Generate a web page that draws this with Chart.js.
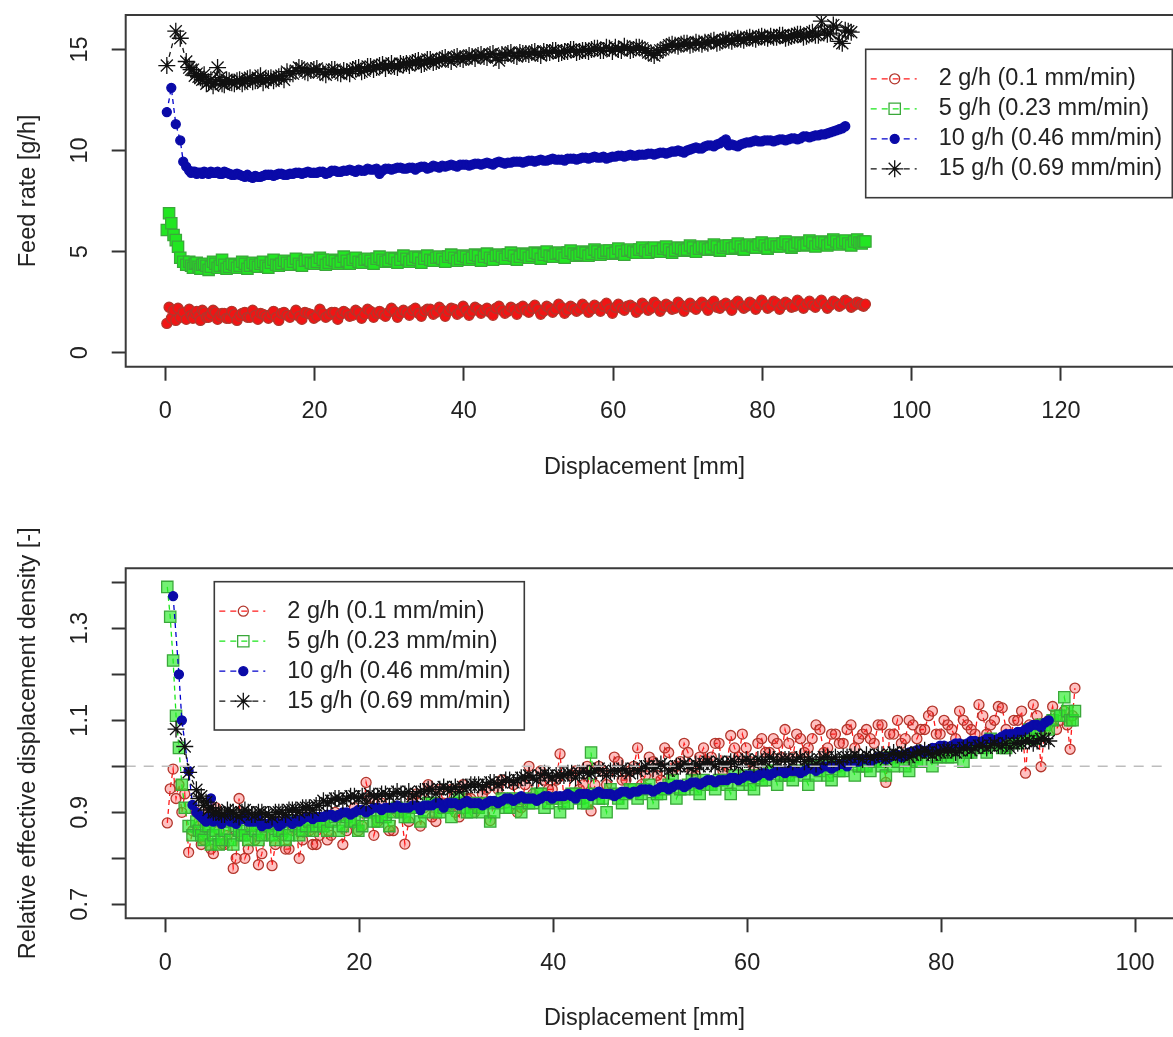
<!DOCTYPE html>
<html>
<head>
<meta charset="utf-8">
<script src="https://cdn.jsdelivr.net/npm/chart.js@4.4.1/dist/chart.umd.min.js"></script>
<style>
  html, body { margin: 0; padding: 0; background: #fff; }
  #wrap { position: relative; width: 1173px; height: 1037px; }
  canvas { position: absolute; left: 0; }
</style>
</head>
<body>
<div id="wrap">
  <canvas id="feedChart" width="1173" height="520" style="top:0"></canvas>
  <canvas id="densityChart" width="1173" height="517" style="top:520px"></canvas>
</div>
<script>
// displacement [mm] of the samples (run A: start-up plus every 0.8 mm)
const displacement = [
  0.2, 0.5, 0.8, 1.1, 1.4, 1.7, 2.0, 2.4, 2.8, 3.2,
  3.7, 4.2, 4.7, 5.2, 5.8, 6.4, 7.0, 7.6, 8.2, 8.9,
  9.6, 10.3, 11.0, 11.7, 12.4, 13.1, 13.8, 14.5, 15.2, 15.9,
  16.7, 17.5, 18.3, 19.1, 19.9, 20.7, 21.5, 22.3, 23.1, 23.9,
  24.7, 25.5, 26.3, 27.1, 27.9, 28.7, 29.5, 30.3, 31.1, 31.9,
  32.7, 33.5, 34.3, 35.1, 35.9, 36.7, 37.5, 38.3, 39.1, 39.9,
  40.7, 41.5, 42.3, 43.1, 43.9, 44.7, 45.5, 46.3, 47.1, 47.9,
  48.7, 49.5, 50.3, 51.1, 51.9, 52.7, 53.5, 54.3, 55.1, 55.9,
  56.7, 57.5, 58.3, 59.1, 59.9, 60.7, 61.5, 62.3, 63.1, 63.9,
  64.7, 65.5, 66.3, 67.1, 67.9, 68.7, 69.5, 70.3, 71.1, 71.9,
  72.7, 73.5, 74.3, 75.1, 75.9, 76.7, 77.5, 78.3, 79.1, 79.9,
  80.7, 81.5, 82.3, 83.1, 83.9, 84.7, 85.5, 86.3, 87.1, 87.9,
  88.7, 89.5, 90.3, 91.1, 91.9, 92.7, 93.3, 93.8
];
// in-between samples (B), after the start-up
const displacementB = [
  3.45, 3.95, 4.45, 4.95, 5.5, 6.1, 6.7, 7.3, 7.9, 8.55,
  9.25, 9.95, 10.65, 11.35, 12.05, 12.75, 13.45, 14.15, 14.85, 15.55,
  16.3, 17.1, 17.9, 18.7, 19.5, 20.3, 21.1, 21.9, 22.7, 23.5,
  24.3, 25.1, 25.9, 26.7, 27.5, 28.3, 29.1, 29.9, 30.7, 31.5,
  32.3, 33.1, 33.9, 34.7, 35.5, 36.3, 37.1, 37.9, 38.7, 39.5,
  40.3, 41.1, 41.9, 42.7, 43.5, 44.3, 45.1, 45.9, 46.7, 47.5,
  48.3, 49.1, 49.9, 50.7, 51.5, 52.3, 53.1, 53.9, 54.7, 55.5,
  56.3, 57.1, 57.9, 58.7, 59.5, 60.3, 61.1, 61.9, 62.7, 63.5,
  64.3, 65.1, 65.9, 66.7, 67.5, 68.3, 69.1, 69.9, 70.7, 71.5,
  72.3, 73.1, 73.9, 74.7, 75.5, 76.3, 77.1, 77.9, 78.7, 79.5,
  80.3, 81.1, 81.9, 82.7, 83.5, 84.3, 85.1, 85.9, 86.7, 87.5,
  88.3, 89.1, 89.9, 90.7, 91.5, 92.3, 93.0, 93.55
];

const seriesLabels = ["2 g/h (0.1 mm/min)", "5 g/h (0.23 mm/min)", "10 g/h (0.46 mm/min)", "15 g/h (0.69 mm/min)"];

// --- feed rate [g/h] ---
const feedRed = [
  1.45, 2.25, 1.7, 2.1, 1.6, 2.2, 1.75, 2.0, 1.65, 2.15,
  1.7, 2.05, 1.6, 2.0, 1.75, 2.1, 1.65, 1.95, 1.7, 2.05,
  1.6, 1.95, 1.75, 2.1, 1.65, 1.9, 1.7, 2.05, 1.6, 2.0,
  1.75, 2.1, 1.65, 1.95, 1.7, 2.15, 1.75, 2.0, 1.65, 2.05,
  1.8, 2.1, 1.7, 2.15, 1.75, 2.05, 1.8, 2.2, 1.75, 2.1,
  1.85, 2.2, 1.8, 2.15, 1.9, 2.25, 1.8, 2.2, 1.9, 2.3,
  1.85, 2.25, 1.95, 2.2, 1.85, 2.3, 1.95, 2.25, 1.9, 2.3,
  2.0, 2.35, 1.9, 2.3, 2.0, 2.4, 1.95, 2.3, 2.05, 2.4,
  2.0, 2.35, 2.05, 2.45, 1.95, 2.4, 2.1, 2.35, 2.0, 2.45,
  2.1, 2.5, 2.05, 2.4, 2.15, 2.5, 2.05, 2.45, 2.15, 2.5,
  2.1, 2.55, 2.2, 2.45, 2.1, 2.55, 2.2, 2.5, 2.15, 2.6,
  2.2, 2.55, 2.15, 2.5, 2.25, 2.6, 2.2, 2.55, 2.25, 2.6,
  2.2, 2.55, 2.3, 2.6, 2.25, 2.5, 2.35, 2.4
];
const feedRedB = [
  1.85, 1.95, 1.8, 2.1, 1.75, 1.9, 2.0, 1.8, 1.95, 1.7,
  1.9, 1.8, 2.0, 1.75, 1.85, 1.95, 1.8, 1.9, 1.75, 1.95,
  1.85, 1.9, 1.8, 2.0, 1.9, 1.8, 1.95, 1.85, 2.0, 1.9,
  1.95, 1.85, 2.0, 1.9, 2.05, 1.95, 1.9, 2.0, 2.05, 1.95,
  2.0, 2.1, 1.95, 2.05, 2.15, 2.0, 2.1, 2.05, 2.15, 2.0,
  2.1, 2.05, 2.15, 2.1, 2.0, 2.2, 2.1, 2.05, 2.15, 2.2,
  2.1, 2.2, 2.15, 2.05, 2.2, 2.15, 2.25, 2.1, 2.2, 2.15,
  2.25, 2.15, 2.2, 2.3, 2.15, 2.25, 2.2, 2.3, 2.25, 2.15,
  2.3, 2.2, 2.35, 2.25, 2.3, 2.2, 2.35, 2.3, 2.25, 2.35,
  2.3, 2.4, 2.25, 2.35, 2.3, 2.4, 2.35, 2.3, 2.4, 2.35,
  2.4, 2.3, 2.45, 2.35, 2.4, 2.3, 2.45, 2.4, 2.35, 2.45,
  2.4, 2.35, 2.45, 2.4, 2.5, 2.35, 2.45, 2.3
];
const feedGreen = [
  6.07, 6.9, 6.4, 5.82, 5.57, 5.24, 4.7, 4.5, 4.35, 4.5,
  4.2, 4.45, 4.15, 4.4, 4.1, 4.5, 4.2, 4.6, 4.15, 4.4,
  4.2, 4.5, 4.15, 4.45, 4.25, 4.5, 4.2, 4.6, 4.3, 4.55,
  4.35, 4.65, 4.3, 4.6, 4.4, 4.7, 4.35, 4.6, 4.4, 4.75,
  4.4, 4.7, 4.45, 4.65, 4.4, 4.75, 4.5, 4.7, 4.45, 4.8,
  4.5, 4.75, 4.45, 4.8, 4.55, 4.75, 4.5, 4.85, 4.55, 4.8,
  4.6, 4.85, 4.55, 4.9, 4.6, 4.85, 4.65, 4.95, 4.6, 4.9,
  4.7, 4.95, 4.65, 5.0, 4.75, 4.95, 4.7, 5.05, 4.8, 5.0,
  4.8, 5.1, 4.85, 5.05, 4.9, 5.15, 4.85, 5.1, 4.95, 5.2,
  4.95, 5.2, 5.0, 5.25, 4.95, 5.2, 5.05, 5.3, 5.0, 5.25,
  5.1, 5.35, 5.05, 5.3, 5.15, 5.4, 5.1, 5.35, 5.2, 5.45,
  5.15, 5.4, 5.25, 5.5, 5.2, 5.45, 5.3, 5.55, 5.25, 5.5,
  5.3, 5.6, 5.35, 5.55, 5.3, 5.6, 5.4, 5.5
];
const feedGreenB = [
  4.3, 4.4, 4.25, 4.35, 4.3, 4.25, 4.4, 4.3, 4.35, 4.25,
  4.35, 4.3, 4.4, 4.3, 4.35, 4.4, 4.3, 4.45, 4.35, 4.4,
  4.45, 4.5, 4.4, 4.55, 4.45, 4.5, 4.6, 4.45, 4.55, 4.5,
  4.55, 4.6, 4.5, 4.6, 4.55, 4.65, 4.6, 4.55, 4.65, 4.6,
  4.65, 4.6, 4.7, 4.65, 4.6, 4.7, 4.65, 4.75, 4.7, 4.65,
  4.75, 4.7, 4.8, 4.75, 4.7, 4.8, 4.75, 4.85, 4.8, 4.75,
  4.85, 4.8, 4.9, 4.85, 4.8, 4.9, 4.85, 4.95, 4.9, 4.85,
  4.95, 4.9, 5.0, 4.95, 5.05, 4.95, 5.0, 5.05, 5.0, 5.1,
  5.05, 5.1, 5.0, 5.15, 5.1, 5.05, 5.15, 5.1, 5.2, 5.15,
  5.2, 5.15, 5.25, 5.2, 5.3, 5.2, 5.25, 5.3, 5.25, 5.35,
  5.3, 5.35, 5.25, 5.4, 5.35, 5.3, 5.4, 5.35, 5.45, 5.4,
  5.45, 5.4, 5.5, 5.45, 5.4, 5.5, 5.45, 5.5
];
const feedBlue = [
  11.9, null, 13.1, null, 11.3, null, 10.5, 9.45, 9.2, 9.0,
  8.95, 8.85, 8.9, 8.95, 8.85, 8.9, 8.95, 8.85, 8.9, 8.8,
  8.85, 8.75, 8.8, 8.65, 8.7, 8.75, 8.8, 8.75, 8.85, 8.8,
  8.85, 8.9, 8.85, 8.95, 8.9, 8.95, 8.85, 9.0, 8.95, 9.0,
  9.05, 8.95, 9.0, 9.1, 9.05, 8.85, 9.1, 9.05, 9.15, 9.1,
  9.15, 9.05, 9.2, 9.1, 9.25, 9.15, 9.2, 9.3, 9.2, 9.3,
  9.25, 9.35, 9.3, 9.4, 9.3, 9.45, 9.35, 9.4, 9.45, 9.4,
  9.5, 9.45, 9.55, 9.5, 9.6, 9.55, 9.5, 9.6, 9.55, 9.65,
  9.6, 9.7, 9.65, 9.6, 9.7, 9.75, 9.7, 9.8, 9.75, 9.8,
  9.85, 9.8, 9.9, 9.85, 9.95, 10.0, 9.9, 10.05, 10.15, 10.1,
  10.25, 10.2, 10.35, 10.55, 10.3, 10.2, 10.35, 10.4, 10.5, 10.45,
  10.5, 10.45, 10.55, 10.5, 10.6, 10.55, 10.7, 10.65, 10.75, 10.8,
  10.85, 10.95, 11.05, 11.2
];
const feedBlueB = [
  8.9, 8.95, 8.9, 8.85, 8.9, 8.95, 8.9, 8.85, 8.95, 8.85,
  8.8, 8.8, 8.7, 8.7, 8.75, 8.7, 8.8, 8.8, 8.8, 8.85,
  8.8, 8.85, 8.9, 8.9, 8.9, 8.9, 8.95, 8.9, 9.0, 8.95,
  9.0, 9.0, 9.05, 9.0, 9.05, 9.1, 9.0, 9.1, 9.1, 9.15,
  9.1, 9.15, 9.15, 9.2, 9.15, 9.2, 9.25, 9.25, 9.25, 9.3,
  9.3, 9.3, 9.35, 9.35, 9.35, 9.4, 9.4, 9.4, 9.45, 9.45,
  9.45, 9.5, 9.5, 9.5, 9.55, 9.55, 9.55, 9.6, 9.6, 9.6,
  9.65, 9.65, 9.65, 9.7, 9.65, 9.7, 9.75, 9.75, 9.75, 9.8,
  9.8, 9.85, 9.85, 9.9, 9.9, 9.95, 9.95, 10.0, 10.1, 10.1,
  10.2, 10.25, 10.3, 10.45, 10.25, 10.25, 10.3, 10.4, 10.45, 10.45,
  10.5, 10.5, 10.5, 10.55, 10.55, 10.6, 10.6, 10.7, 10.7, 10.75,
  10.8, 10.9, 11.0, 11.1
];
const feedBlack = [
  14.2, null, null, null, 15.9, null, 15.55, null, 14.4, 14.1,
  14.0, 13.8, 13.6, 13.75, 13.4, 13.2, 14.1, 13.3, 13.5, 13.35,
  13.45, 13.3, 13.55, 13.4, 13.6, 13.35, 13.55, 13.45, 13.65, 13.5,
  13.8, 13.95, 14.05, 13.85, 14.0, 13.9, 13.75, 14.0, 13.85, 13.95,
  13.8, 14.05, 13.9, 14.15, 14.0, 14.2, 14.05, 14.3, 14.1, 14.25,
  14.2, 14.4, 14.25, 14.5, 14.35, 14.45, 14.6, 14.4, 14.65, 14.5,
  14.7, 14.55, 14.75, 14.6, 14.8, 14.45, 14.7, 14.85, 14.65, 14.8,
  14.75, 14.9, 14.7, 14.85, 14.95, 14.8, 14.9, 15.0, 14.85, 14.95,
  14.9, 15.05, 14.95, 15.1, 14.9, 15.0, 15.15, 14.95, 15.1, 15.05,
  14.85, 14.7, 14.95, 15.1, 15.25, 15.15, 15.3, 15.2, 15.35, 15.25,
  15.3, 15.45, 15.35, 15.5, 15.4, 15.55, 15.45, 15.6, 15.5, 15.65,
  15.55, 15.6, 15.7, 15.55, 15.65, 15.75, 15.6, 15.8, 15.7, 16.4,
  15.75, 16.2, 15.4, 15.95, 15.85
];
const feedBlackB = [
  14.0, 13.7, 13.65, 13.5, 13.3, 13.5, 13.4, 13.6, 13.25, 13.45,
  13.3, 13.5, 13.4, 13.6, 13.45, 13.7, 13.5, 13.6, 13.55, 13.7,
  13.9, 13.8, 14.1, 13.9, 13.95, 14.05, 13.85, 13.9, 14.0, 13.8,
  13.9, 14.0, 14.1, 13.95, 14.15, 14.1, 14.25, 14.2, 14.15, 14.3,
  14.3, 14.35, 14.45, 14.3, 14.5, 14.4, 14.55, 14.5, 14.6, 14.55,
  14.6, 14.65, 14.7, 14.65, 14.75, 14.6, 14.75, 14.8, 14.7, 14.85,
  14.8, 14.85, 14.8, 14.9, 14.85, 14.95, 14.85, 14.9, 15.0, 14.9,
  14.95, 15.0, 15.05, 14.95, 15.05, 15.1, 14.95, 15.05, 15.0, 15.1,
  14.95, 14.8, 14.85, 15.0, 15.2, 15.2, 15.25, 15.3, 15.25, 15.3,
  15.35, 15.4, 15.3, 15.45, 15.45, 15.5, 15.5, 15.55, 15.55, 15.6,
  15.6, 15.65, 15.6, 15.7, 15.6, 15.7, 15.75, 15.65, 15.85, 15.7,
  15.9, 15.8, 16.1, 15.3, 15.9
];

// --- relative effective displacement density [-] ---
const densRed = [
  0.877, 0.951, 0.994, 0.93, 0.96, 0.9, 0.94, 0.813, 0.86, 0.9,
  0.83, 0.88, 0.82, 0.91, 0.83, 0.85, 0.778, 0.93, 0.8, 0.87,
  0.786, 0.85, 0.784, 0.88, 0.82, 0.86, 0.8, 0.89, 0.83, 0.85,
  0.84, 0.9, 0.83, 0.88, 0.86, 0.965, 0.85, 0.92, 0.86, 0.9,
  0.831, 0.93, 0.87, 0.96, 0.88, 0.92, 0.95, 0.89, 0.93, 0.9,
  0.94, 0.882, 0.95, 0.92, 0.96, 0.91, 1.0, 0.93, 0.97, 0.95,
  1.027, 0.94, 0.99, 0.96, 0.903, 1.0, 0.96, 1.02, 0.97, 0.99,
  1.04, 0.98, 1.01, 0.97, 1.03, 1.0, 1.05, 0.99, 1.02, 1.01,
  1.05, 0.99, 1.067, 1.02, 1.04, 1.0, 1.06, 1.03, 1.05, 1.08,
  1.02, 1.06, 1.04, 1.09, 1.03, 1.07, 1.05, 1.08, 1.04, 1.07,
  1.06, 1.09, 0.965, 1.07, 1.05, 1.1, 1.06, 1.08, 1.12, 1.07,
  1.09, 1.06, 1.1, 1.08, 1.134, 1.07, 1.1, 1.127, 1.05, 1.1,
  0.985, 1.134, 0.999, 1.1, 1.08, 1.12, 1.037, 1.17
];
const densRedB = [
  0.87, 0.84, 0.9, 0.81, 0.86, 0.83, 0.88, 0.8, 0.85, 0.82,
  0.84, 0.81, 0.87, 0.83, 0.85, 0.82, 0.88, 0.84, 0.86, 0.83,
  0.87, 0.85, 0.89, 0.86, 0.91, 0.87, 0.93, 0.88, 0.9, 0.86,
  0.9, 0.88, 0.94, 0.91, 0.89, 0.95, 0.92, 0.9, 0.96, 0.93,
  0.91, 0.95, 0.92, 0.97, 0.93, 0.9, 0.96, 0.94, 0.99, 0.95,
  0.97, 0.93, 0.98, 0.95, 1.0, 0.96, 0.99, 0.94, 1.01, 0.97,
  1.0, 0.96, 1.02, 0.98, 1.04, 0.99, 1.01, 1.03, 0.98, 1.04,
  1.02, 1.05, 1.0, 1.04, 1.07, 1.01, 1.05, 1.03, 1.06, 1.02,
  1.05, 1.07, 1.03, 1.06, 1.08, 1.04, 1.07, 1.05, 1.09, 1.06,
  1.08, 1.05, 1.09, 1.07, 1.1, 1.06, 1.09, 1.08, 1.11, 1.07,
  1.1, 1.08, 1.12, 1.09, 1.07, 1.11, 1.09, 1.13, 1.08, 1.1,
  1.12, 1.09, 1.11, 1.08, 1.13, 1.1, 1.09, 1.11
];
const densGreen = [
  1.39, 1.325, 1.23, 1.11, 1.04, 0.96, 0.91, 0.87, 0.85, 0.88,
  0.85, 0.87, 0.83, 0.86, 0.84, 0.88, 0.83, 0.86, 0.85, 0.87,
  0.84, 0.87, 0.85, 0.86, 0.84, 0.88, 0.85, 0.87, 0.86, 0.88,
  0.86, 0.89, 0.87, 0.88, 0.86, 0.9, 0.88, 0.89, 0.87, 0.91,
  0.89, 0.91, 0.88, 0.92, 0.9, 0.91, 0.89, 0.93, 0.9, 0.92,
  0.9, 0.88, 0.92, 0.91, 0.93, 0.9, 0.92, 0.94, 0.91, 0.93,
  0.9, 0.92, 0.94, 0.92, 1.03, 0.93, 0.9, 0.94, 0.92, 0.95,
  0.93, 0.95, 0.92, 0.94, 0.96, 0.93, 0.95, 0.97, 0.94, 0.96,
  0.95, 0.97, 0.94, 0.96, 0.98, 0.95, 0.97, 0.99, 0.96, 0.98,
  0.97, 0.99, 0.96, 0.98, 1.0, 0.97, 0.99, 1.01, 0.98, 1.0,
  0.99, 1.01, 0.98, 1.0, 1.02, 0.99, 1.01, 1.03, 1.0, 1.02,
  1.02, 1.04, 1.01, 1.03, 1.05, 1.03, 1.05, 1.04, 1.06, 1.05,
  1.07, 1.06, 1.09, 1.08, 1.11, 1.15, 1.1, 1.12
];
const densGreenB = [
  0.86, 0.84, 0.87, 0.85, 0.83, 0.86, 0.84, 0.87, 0.85, 0.84,
  0.86, 0.85, 0.87, 0.84, 0.86, 0.85, 0.87, 0.86, 0.88, 0.87,
  0.87, 0.88, 0.86, 0.89, 0.88, 0.87, 0.9, 0.88, 0.89, 0.9,
  0.9, 0.89, 0.91, 0.9, 0.92, 0.9, 0.91, 0.92, 0.91, 0.9,
  0.91, 0.92, 0.9, 0.93, 0.91, 0.92, 0.93, 0.92, 0.94, 0.92,
  0.93, 0.92, 0.94, 0.93, 0.92, 0.94, 0.93, 0.95, 0.93, 0.94,
  0.95, 0.94, 0.96, 0.94, 0.95, 0.97, 0.95, 0.96, 0.95, 0.97,
  0.96, 0.97, 0.96, 0.98, 0.97, 0.96, 0.98, 0.97, 0.99, 0.98,
  0.98, 0.99, 0.98, 1.0, 0.99, 0.98, 1.0, 0.99, 1.01, 1.0,
  1.0, 1.01, 1.0, 1.02, 1.01, 1.0, 1.02, 1.01, 1.03, 1.02,
  1.03, 1.02, 1.04, 1.03, 1.05, 1.04, 1.06, 1.05, 1.04, 1.06,
  1.07, 1.08, 1.07, 1.09, 1.1, 1.11, 1.12, 1.1
];
const densBlue = [
  null, null, 1.37, null, 1.2, 1.1, null, 0.99, 0.916, 0.9,
  0.89, 0.88, 0.93, 0.885, 0.875, 0.89, 0.88, 0.885, 0.89, 0.88,
  0.885, 0.875, 0.88, 0.87, 0.885, 0.875, 0.88, 0.89, 0.885, 0.89,
  0.895, 0.89, 0.9, 0.895, 0.905, 0.9, 0.91, 0.905, 0.91, 0.915,
  0.91, 0.915, 0.905, 0.915, 0.92, 0.91, 0.92, 0.915, 0.925, 0.92,
  0.915, 0.925, 0.92, 0.93, 0.925, 0.935, 0.93, 0.925, 0.935, 0.93,
  0.935, 0.94, 0.93, 0.94, 0.935, 0.945, 0.94, 0.935, 0.945, 0.94,
  0.945, 0.95, 0.945, 0.955, 0.95, 0.96, 0.955, 0.965, 0.96, 0.97,
  0.965, 0.97, 0.975, 0.97, 0.98, 0.975, 0.985, 0.98, 0.99, 0.985,
  0.99, 0.985, 0.995, 0.99, 1.0, 0.995, 1.005, 1.0, 1.01, 1.015,
  1.01, 1.02, 1.015, 1.025, 1.02, 1.03, 1.035, 1.03, 1.04, 1.045,
  1.04, 1.05, 1.045, 1.055, 1.05, 1.06, 1.055, 1.065, 1.07, 1.075,
  1.08, 1.09, 1.085, 1.1
];
const densBlueB = [
  0.895, 0.885, 0.89, 0.88, 0.885, 0.89, 0.88, 0.875, 0.885, 0.88,
  0.88, 0.87, 0.875, 0.88, 0.875, 0.88, 0.885, 0.885, 0.89, 0.89,
  0.89, 0.895, 0.895, 0.9, 0.9, 0.905, 0.905, 0.91, 0.91, 0.91,
  0.91, 0.91, 0.915, 0.915, 0.915, 0.92, 0.92, 0.92, 0.92, 0.92,
  0.92, 0.92, 0.925, 0.925, 0.93, 0.93, 0.93, 0.93, 0.93, 0.935,
  0.935, 0.935, 0.935, 0.94, 0.94, 0.94, 0.94, 0.94, 0.94, 0.945,
  0.945, 0.95, 0.95, 0.95, 0.955, 0.955, 0.96, 0.96, 0.965, 0.965,
  0.97, 0.97, 0.97, 0.975, 0.975, 0.98, 0.98, 0.985, 0.985, 0.99,
  0.99, 0.99, 0.99, 0.995, 0.995, 1.0, 1.0, 1.005, 1.01, 1.01,
  1.015, 1.015, 1.02, 1.02, 1.025, 1.025, 1.03, 1.035, 1.035, 1.04,
  1.045, 1.045, 1.05, 1.05, 1.055, 1.055, 1.06, 1.06, 1.07, 1.07,
  1.075, 1.085, 1.09, 1.095
];
const densBlack = [
  null, null, null, 1.081, null, null, 1.043, 0.987, null, 0.949,
  0.935, 0.922, 0.91, 0.9, 0.895, 0.905, 0.9, 0.89, 0.905, 0.895,
  0.9, 0.895, 0.89, 0.9, 0.895, 0.905, 0.9, 0.91, 0.905, 0.915,
  0.92, 0.93, 0.925, 0.935, 0.93, 0.92, 0.935, 0.94, 0.935, 0.945,
  0.94, 0.935, 0.945, 0.95, 0.94, 0.955, 0.95, 0.945, 0.955, 0.96,
  0.955, 0.965, 0.96, 0.97, 0.965, 0.975, 0.98, 0.97, 0.985, 0.975,
  0.98, 0.985, 0.975, 0.99, 0.985, 0.995, 0.98, 0.99, 0.995, 0.985,
  0.99, 1.0, 0.995, 1.005, 0.99, 1.0, 1.005, 0.995, 1.0, 1.01,
  1.0, 1.005, 1.01, 1.0, 1.015, 1.005, 1.01, 1.02, 1.01, 1.015,
  1.01, 1.02, 1.015, 1.005, 1.02, 1.015, 1.01, 1.02, 1.025, 1.015,
  1.02, 1.025, 1.015, 1.03, 1.025, 1.02, 1.03, 1.035, 1.025, 1.03,
  1.035, 1.03, 1.04, 1.035, 1.045, 1.04, 1.05, 1.045, 1.04, 1.05,
  1.055, 1.05, 1.06, 1.055
];
const densBlackB = [
  0.93, 0.915, 0.905, 0.9, 0.9, 0.895, 0.9, 0.895, 0.9, 0.9,
  0.895, 0.9, 0.895, 0.9, 0.9, 0.905, 0.905, 0.91, 0.91, 0.915,
  0.925, 0.925, 0.93, 0.93, 0.935, 0.935, 0.94, 0.935, 0.94, 0.94,
  0.94, 0.945, 0.94, 0.945, 0.95, 0.95, 0.95, 0.955, 0.955, 0.96,
  0.96, 0.96, 0.965, 0.965, 0.97, 0.97, 0.975, 0.975, 0.98, 0.98,
  0.98, 0.98, 0.985, 0.985, 0.985, 0.99, 0.99, 0.99, 0.99, 0.99,
  0.995, 0.995, 1.0, 1.0, 1.0, 0.995, 1.0, 1.0, 1.005, 1.005,
  1.005, 1.01, 1.005, 1.01, 1.01, 1.01, 1.015, 1.01, 1.015, 1.015,
  1.015, 1.015, 1.01, 1.015, 1.015, 1.02, 1.02, 1.02, 1.02, 1.02,
  1.025, 1.02, 1.025, 1.025, 1.025, 1.03, 1.025, 1.03, 1.03, 1.03,
  1.035, 1.035, 1.035, 1.04, 1.04, 1.045, 1.045, 1.045, 1.05, 1.05,
  1.05, 1.055, 1.055, 1.06
];
const densRefLevel = 1.0;

// axis ticks
const feedTicksX = [0, 20, 40, 60, 80, 100, 120];
const feedTicksY = [0, 5, 10, 15];
const densTicksX = [0, 20, 40, 60, 80, 100];
const densTicksY = [0.7, 0.8, 0.9, 1.0, 1.1, 1.2, 1.3, 1.4];
const densLabelsY = [0.7, 0.9, 1.1, 1.3];

const FONT = '"Liberation Sans", Arial, sans-serif';
const TEXT = "#222";
const FRAME = "#3a3a3a";

// legend keeps the open symbols; the plot fills follow the look of the dense clouds
const seriesStyles = [
  { pointStyle: "circle", radius: 5,   pointColor: "#b3362c", fill: "rgba(0,0,0,0)", lineColor: "#ff1a1a", order: 5 },
  { pointStyle: "rect",   radius: 8,   pointColor: "#3aa83a", fill: "rgba(0,0,0,0)", lineColor: "#19e619", order: 4 },
  { pointStyle: "circle", radius: 4.5, pointColor: "#0a0aa8", fill: "#0a0aa8",       lineColor: "#0000cc", order: 3 },
  { pointStyle: "star",   radius: 8.5, pointColor: "#111",    fill: "rgba(0,0,0,0)", lineColor: "#111",    order: 2 }
];

const toPoints = (ysA, ysB) => {
  const pts = [];
  ysA.forEach((y, i) => { if (y !== null) pts.push({ x: displacement[i], y: y }); });
  ysB.forEach((y, i) => { pts.push({ x: displacementB[i], y: y }); });
  return pts.sort((p, q) => p.x - q.x);
};

const makeDataset = (idx, ysA, ysB, fill) => {
  const s = seriesStyles[idx];
  return {
    label: seriesLabels[idx],
    data: toPoints(ysA, ysB),
    showLine: true,
    borderColor: s.lineColor,
    borderWidth: 1.3,
    borderDash: [5, 4],
    pointStyle: s.pointStyle,
    pointRadius: s.radius,
    pointBorderColor: s.pointColor,
    pointBackgroundColor: fill || s.fill,
    pointBorderWidth: 1.3,
    order: s.order
  };
};

// frame, rotated y labels and the boxed legend, R style
const rPlotDecor = {
  id: "rPlotDecor",
  afterDatasetsDraw(chart, args, opts) {
    const ctx = chart.ctx, a = chart.chartArea;
    ctx.save();
    ctx.strokeStyle = FRAME;
    ctx.lineWidth = 2;
    ctx.beginPath();
    ctx.moveTo(chart.width + 2, a.top);
    ctx.lineTo(a.left, a.top);
    ctx.lineTo(a.left, a.bottom);
    ctx.lineTo(chart.width + 2, a.bottom);
    ctx.stroke();

    ctx.fillStyle = TEXT;
    ctx.font = "23.5px " + FONT;
    ctx.textAlign = "center";
    ctx.textBaseline = "middle";
    opts.yLabels.forEach(v => {
      const py = chart.scales.y.getPixelForValue(v);
      ctx.save();
      ctx.translate(opts.labelX, py);
      ctx.rotate(-Math.PI / 2);
      ctx.fillText(String(v), 0, 0);
      ctx.restore();
    });

    const L = opts.legend;
    ctx.fillStyle = "#fff";
    ctx.fillRect(L.x, L.y, L.w, L.h);
    ctx.strokeStyle = FRAME;
    ctx.lineWidth = 1.6;
    ctx.strokeRect(L.x, L.y, L.w, L.h);
    seriesStyles.forEach((s, i) => {
      const y = L.y + 29.5 + i * 30;
      ctx.save();
      ctx.strokeStyle = s.lineColor;
      ctx.lineWidth = 1.3;
      ctx.setLineDash([6, 5]);
      ctx.beginPath();
      ctx.moveTo(L.x + 5, y);
      ctx.lineTo(L.x + 51, y);
      ctx.stroke();
      ctx.setLineDash([]);
      ctx.strokeStyle = s.pointColor;
      ctx.fillStyle = s.fill;
      Chart.helpers.drawPoint(ctx, { pointStyle: s.pointStyle, radius: s.radius, borderWidth: 1.3, rotation: 0 }, L.x + 29, y);
      ctx.restore();
      ctx.fillStyle = TEXT;
      ctx.textAlign = "left";
      ctx.fillText(seriesLabels[i], L.x + 73, y);
    });
    ctx.restore();
  }
};

const tickFont = { family: FONT, size: 23.5, lineHeight: 1.2 };
const tickGrid = { drawOnChartArea: false, drawTicks: true, tickLength: 14, tickWidth: 2, tickColor: "#333" };

const makeOptions = o => ({
  responsive: false,
  animation: false,
  events: [],
  layout: { padding: { top: o.areaTop, left: 0, right: 0, bottom: 0 } },
  plugins: {
    legend: { display: false },
    tooltip: { enabled: false },
    rPlotDecor: o.decor
  },
  scales: {
    x: {
      type: "linear",
      min: o.xMin,
      max: o.xMax,
      afterBuildTicks: s => { s.ticks = o.xTicks.map(v => ({ value: v })); },
      afterFit: s => { s.height = o.xAxisHeight; },
      grid: tickGrid,
      border: { display: false },
      ticks: { padding: 16.7, color: TEXT, font: tickFont, maxRotation: 0, autoSkip: false },
      title: { display: true, text: "Displacement [mm]", color: TEXT, font: tickFont, padding: { top: 0, bottom: o.xTitlePad } }
    },
    y: {
      type: "linear",
      min: o.yMin,
      max: o.yMax,
      afterBuildTicks: s => { s.ticks = o.yTicks.map(v => ({ value: v })); },
      afterFit: s => { s.width = 125.7; },
      grid: tickGrid,
      border: { display: false },
      ticks: { display: false },
      title: { display: true, text: o.yTitle, color: TEXT, font: tickFont, padding: { top: 14.4, bottom: 0 } }
    }
  }
});

new Chart(document.getElementById("feedChart"), {
  type: "scatter",
  data: {
    datasets: [
      makeDataset(0, feedRed, feedRedB, "#f21414"),
      makeDataset(1, feedGreen, feedGreenB, "#22e622"),
      makeDataset(2, feedBlue, feedBlueB),
      makeDataset(3, feedBlack, feedBlackB)
    ]
  },
  options: makeOptions({
    areaTop: 15, xMin: -5.31, xMax: 133.7, yMin: -0.69, yMax: 16.7,
    xTicks: feedTicksX, yTicks: feedTicksY, xAxisHeight: 153.3, xTitlePad: 37.9,
    yTitle: "Feed rate [g/h]",
    decor: { yLabels: feedTicksY, labelX: 80.5, legend: { x: 865.7, y: 49.3, w: 306.6, h: 148.4 } }
  }),
  plugins: [rPlotDecor]
});

new Chart(document.getElementById("densityChart"), {
  type: "scatter",
  data: {
    datasets: [
      makeDataset(0, densRed, densRedB, "rgba(255,30,30,0.28)"),
      makeDataset(1, densGreen, densGreenB, "rgba(40,235,40,0.65)"),
      makeDataset(2, densBlue, densBlueB),
      makeDataset(3, densBlack, densBlackB),
      {
        label: "reference",
        data: [{ x: -4.09, y: densRefLevel }, { x: 102.9, y: densRefLevel }],
        showLine: true,
        borderColor: "#bdbdbd",
        borderWidth: 1.5,
        borderDash: [10, 8],
        pointRadius: 0,
        order: 1
      }
    ]
  },
  options: makeOptions({
    areaTop: 48.3, xMin: -4.09, xMax: 102.9, yMin: 0.6696, yMax: 1.4304,
    xTicks: densTicksX, yTicks: densTicksY, xAxisHeight: 118.7, xTitlePad: 3.9,
    yTitle: "Relative effective displacement density [-]",
    decor: { yLabels: densLabelsY, labelX: 80.5, legend: { x: 214.3, y: 61.7, w: 310, h: 148.3 } }
  }),
  plugins: [rPlotDecor]
});
</script>
</body>
</html>
